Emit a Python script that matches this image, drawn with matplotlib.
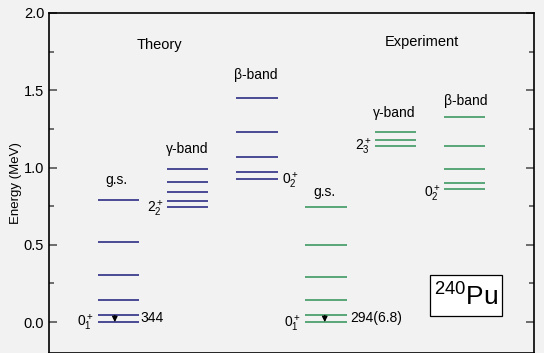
import matplotlib
matplotlib.use("Agg")
import matplotlib.pyplot as plt
from matplotlib.ticker import MultipleLocator
from matplotlib.patches import Rectangle

plt.rcParams['font.family'] = ['Liberation Sans', 'DejaVu Sans']
plt.rcParams['mathtext.fontset'] = 'custom'
plt.rcParams['mathtext.rm'] = 'Liberation Sans'
plt.rcParams['mathtext.it'] = 'Liberation Sans:italic'
plt.rcParams['mathtext.bf'] = 'Liberation Sans:bold'

# Energy levels (MeV)
theory_gs = [0.0, 0.043, 0.145, 0.302, 0.518, 0.790]
theory_gamma = [0.743, 0.782, 0.840, 0.909, 0.991]
theory_beta = [0.924, 0.968, 1.071, 1.231, 1.451]
exp_gs = [0.0, 0.043, 0.141, 0.294, 0.497, 0.747]
exp_gamma = [1.138, 1.179, 1.233]
exp_beta = [0.862, 0.901, 0.991, 1.138, 1.324]

band_names = ["g.s.", "γ-band", "β-band", "g.s.", "γ-band", "β-band"]
theory_color = "#2e2e85"
exp_color = "#3f9a63"

fig = plt.figure(figsize=(5.44, 3.53), dpi=100)
fig.patch.set_facecolor("#f2f2f2")
ax = fig.add_axes([49/544, 0.0, 485/544, 340/353])
ax.set_facecolor("#f2f2f2")
ax.set_xlim(0, 7)
ax.set_ylim(-0.2, 2.0)

bands = [theory_gs, theory_gamma, theory_beta, exp_gs, exp_gamma, exp_beta]
colors = [theory_color]*3 + [exp_color]*3
hw = 0.3
for i, (levels, c) in enumerate(zip(bands, colors)):
    xc = i + 1
    for e in levels:
        ax.plot([xc - hw, xc + hw], [e, e], color=c, lw=1.2, solid_capstyle='butt')

# band labels
fs = 10
label_pos = [(0.98, 0.92), (2.0, 1.12), (2.99, 1.60), (3.98, 0.84), (4.98, 1.35), (6.02, 1.43)]
for name, (x, y) in zip(band_names, label_pos):
    ax.text(x, y, name, ha='center', va='center', fontsize=fs)

ax.text(1.60, 1.79, "Theory", ha='center', va='center', fontsize=10.5)
ax.text(5.38, 1.81, "Experiment", ha='center', va='center', fontsize=10.5)

# state labels
ax.text(0.64, -0.005, r"$0_1^+$", ha='right', va='center', fontsize=fs)
ax.text(1.32, 0.025, "344", ha='left', va='center', fontsize=fs)
ax.text(1.66, 0.73, r"$2_2^+$", ha='right', va='center', fontsize=fs)
ax.text(3.36, 0.91, r"$0_2^+$", ha='left', va='center', fontsize=fs)
ax.text(3.64, -0.01, r"$0_1^+$", ha='right', va='center', fontsize=fs)
ax.text(4.35, 0.025, "294(6.8)", ha='left', va='center', fontsize=fs)
ax.text(4.66, 1.13, r"$2_3^+$", ha='right', va='center', fontsize=fs)
ax.text(5.65, 0.83, r"$0_2^+$", ha='right', va='center', fontsize=fs)

# E0 arrows
for xa, levels in [(0.95, theory_gs), (3.98, exp_gs)]:
    ax.annotate("", xy=(xa, levels[0]), xytext=(xa, levels[1]),
                arrowprops=dict(arrowstyle='-|>', color='k', lw=0.9,
                                mutation_scale=8, shrinkA=0, shrinkB=0))

ax.add_patch(Rectangle((5.50, 0.039), 1.04, 0.265, fc='white', ec='k', lw=0.9, zorder=2))
ax.text(6.02, 0.165, r"$^{240}$Pu", ha='center', va='center', fontsize=19, zorder=3)

ax.set_ylabel("Energy (MeV)", fontsize=9.5, labelpad=1)
ax.yaxis.set_major_locator(MultipleLocator(0.5))
ax.yaxis.set_minor_locator(MultipleLocator(0.25))
ax.set_yticks([0.0, 0.5, 1.0, 1.5, 2.0])
ax.set_yticklabels(["0.0", "0.5", "1.0", "1.5", "2.0"])
ax.tick_params(axis='y', which='both', direction='in', right=True, left=True,
               labelsize=10.5, color='#555555', width=1.2)
ax.tick_params(axis='y', which='major', length=6)
ax.tick_params(axis='y', which='minor', length=3.5)
ax.tick_params(axis='x', which='both', bottom=False, top=False, labelbottom=False)
for s in ax.spines.values():
    s.set_linewidth(1.2)

fig.savefig("out.png", dpi=100, facecolor=fig.get_facecolor())
